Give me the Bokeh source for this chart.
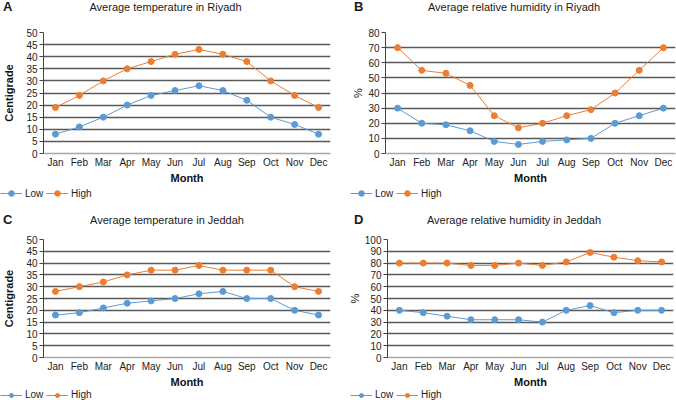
from bokeh.plotting import figure
from bokeh.models import (FactorRange, Range1d, FixedTicker, Legend, LegendItem, Div)
from bokeh.layouts import column, row
from bokeh.embed import file_html
from bokeh.resources import INLINE

months = ["Jan", "Feb", "Mar", "Apr", "May", "Jun", "Jul", "Aug", "Sep", "Oct", "Nov", "Dec"]

riyadh_temp_low = [8, 11, 15, 20, 24, 26, 28, 26, 22, 15, 12, 8]
riyadh_temp_high = [19, 24, 30, 35, 38, 41, 43, 41, 38, 30, 24, 19]

riyadh_hum_low = [30, 20, 19, 15, 8, 6, 8, 9, 10, 20, 25, 30]
riyadh_hum_high = [70, 55, 53, 45, 25, 17, 20, 25, 29, 40, 55, 70]

jeddah_temp_low = [18, 19, 21, 23, 24, 25, 27, 28, 25, 25, 20, 18]
jeddah_temp_high = [28, 30, 32, 35, 37, 37, 39, 37, 37, 37, 30, 28]

jeddah_hum_low = [40, 38, 35, 32, 32, 32, 30, 40, 44, 38, 40, 40]
jeddah_hum_high = [80, 80, 80, 78, 78, 80, 78, 81, 89, 85, 82, 81]

temp_ticks = list(range(0, 51, 5))
hum_ticks_b = list(range(0, 81, 10))
hum_ticks_d = list(range(0, 101, 10))

titles = ["Average temperature in Riyadh", "Average relative humidity in Riyadh",
          "Average temperature in Jeddah", "Average relative humidity in Jeddah"]
letters = ["A", "B", "C", "D"]
series_names = ["Low", "High"]

LOW_C = "#5B9BD5"
HIGH_C = "#ED7D31"
FONT = "Liberation Sans"


def header(letter, title, w, h, top, letter_x, title_left, title_w):
    html = (
        f'<div style="position:relative;width:{w}px;height:{h}px;'
        f'font-family:\'{FONT}\';color:#1a1a1a;">'
        f'<span style="position:absolute;left:{letter_x}px;top:{top - 1}px;'
        f'font-weight:bold;font-size:13px;line-height:13px;">{letter}</span>'
        f'<span style="position:absolute;left:{title_left}px;top:{top}px;'
        f'width:{title_w}px;text-align:center;font-size:11px;line-height:13px;'
        f'white-space:nowrap;">{title}</span></div>'
    )
    return Div(text=html, width=w, height=h, margin=0)


def panel(ylabel, low, high, ymax, ticks, w, h, bl, br, bt, bb,
          ylabel_bold, ylab_standoff):
    p = figure(x_range=FactorRange(*months), y_range=Range1d(0, ymax),
               width=w, height=h, output_backend="svg", toolbar_location=None,
               min_border_left=bl, min_border_right=br, min_border_top=bt,
               min_border_bottom=bb)
    p.outline_line_color = None
    p.background_fill_color = "white"
    p.border_fill_color = "white"

    p.xgrid.grid_line_color = None
    p.ygrid.grid_line_color = "#595959"
    p.ygrid.grid_line_width = 1.3
    p.yaxis.ticker = FixedTicker(ticks=ticks)
    p.yaxis.minor_tick_line_color = None
    p.yaxis.major_tick_in = 0
    p.yaxis.major_tick_out = 4
    p.yaxis.axis_line_color = "#444444"
    p.yaxis.major_tick_line_color = "#444444"
    p.yaxis.major_label_text_font = FONT
    p.yaxis.major_label_text_font_size = "10px"
    p.yaxis.major_label_text_color = "#222222"
    p.yaxis.major_label_standoff = 2
    p.yaxis.axis_label = ylabel
    p.yaxis.axis_label_text_font = FONT
    p.yaxis.axis_label_text_font_size = "11px"
    p.yaxis.axis_label_text_font_style = "bold" if ylabel_bold else "normal"
    p.yaxis.axis_label_text_color = "#111111"
    p.yaxis.axis_label_standoff = ylab_standoff

    p.xaxis.axis_line_color = "#a6a6a6"
    p.xaxis.axis_line_width = 1.3
    p.xaxis.major_tick_line_color = None
    p.xaxis.major_tick_in = 0
    p.xaxis.major_tick_out = 0
    p.xaxis.minor_tick_line_color = None
    p.xaxis.major_label_text_font = FONT
    p.xaxis.major_label_text_font_size = "10px"
    p.xaxis.major_label_text_color = "#222222"
    p.xaxis.major_label_standoff = 3
    p.xaxis.axis_label = "Month"
    p.xaxis.axis_label_text_font = FONT
    p.xaxis.axis_label_text_font_size = "11px"
    p.xaxis.axis_label_text_font_style = "bold"
    p.xaxis.axis_label_text_color = "#111111"
    p.xaxis.axis_label_standoff = 1

    p.line(months, low, line_color=LOW_C, line_width=1)
    p.scatter(months, low, size=6, fill_color=LOW_C, line_color=LOW_C)
    p.line(months, high, line_color=HIGH_C, line_width=1)
    p.scatter(months, high, size=6, fill_color=HIGH_C, line_color=HIGH_C)
    return p


def legend_strip(w, h, leg_x, low, high):
    # the series renderers sit outside the visible y-range: only the legend shows
    f = figure(width=w, height=h, x_range=FactorRange(*months),
               y_range=Range1d(-1000, -999),
               x_axis_type=None, y_axis_type=None, output_backend="svg",
               toolbar_location=None, min_border=0)
    f.outline_line_color = None
    f.xgrid.grid_line_color = None
    f.ygrid.grid_line_color = None
    items = []
    for name, col, vals in zip(series_names, [LOW_C, HIGH_C], [low, high]):
        ln = f.line(months, vals, line_color=col, line_width=1)
        sc = f.scatter(months, vals, size=6, fill_color=col, line_color=col)
        items.append(LegendItem(label=name, renderers=[ln, sc]))
    leg = Legend(items=items, orientation="horizontal", location=(leg_x, 0),
                 glyph_width=22, glyph_height=h, label_standoff=3, spacing=1,
                 padding=0, margin=0, border_line_color=None,
                 background_fill_alpha=0, label_text_font=FONT,
                 label_text_font_size="10px", label_text_color="#222222",
                 label_height=h)
    f.add_layout(leg, "center")
    return f


ha = header(letters[0], titles[0], 338, 20, 1, 3, 0, 331)
hb = header(letters[1], titles[1], 338, 20, 1, 16, 26, 300)
hc = header(letters[2], titles[2], 338, 30, 14, 3, 0, 334)
hd = header(letters[3], titles[3], 338, 30, 14, 16, 26, 300)

pa = panel("Centigrade", riyadh_temp_low, riyadh_temp_high, 50, temp_ticks,
           338, 166, 36, 8, 12, 33, True, 8)
pb = panel("%", riyadh_hum_low, riyadh_hum_high, 80, hum_ticks_b,
           338, 166, 47, 1, 12, 33, False, 1)
pc = panel("Centigrade", jeddah_temp_low, jeddah_temp_high, 50, temp_ticks,
           338, 160, 36, 8, 9, 33, True, 8)
pd = panel("%", jeddah_hum_low, jeddah_hum_high, 100, hum_ticks_d,
           338, 160, 49, 3, 9, 33, False, 1)

la = legend_strip(338, 14, 0, riyadh_temp_low, riyadh_temp_high)
lb = legend_strip(338, 14, 12, riyadh_hum_low, riyadh_hum_high)
lc = legend_strip(338, 10, 0, jeddah_temp_low, jeddah_temp_high)
ld = legend_strip(338, 10, 12, jeddah_hum_low, jeddah_hum_high)

layout = column(row(ha, hb), row(pa, pb), row(la, lb),
                row(hc, hd), row(pc, pd), row(lc, ld))

open("out.html", "w").write(file_html(layout, INLINE))
